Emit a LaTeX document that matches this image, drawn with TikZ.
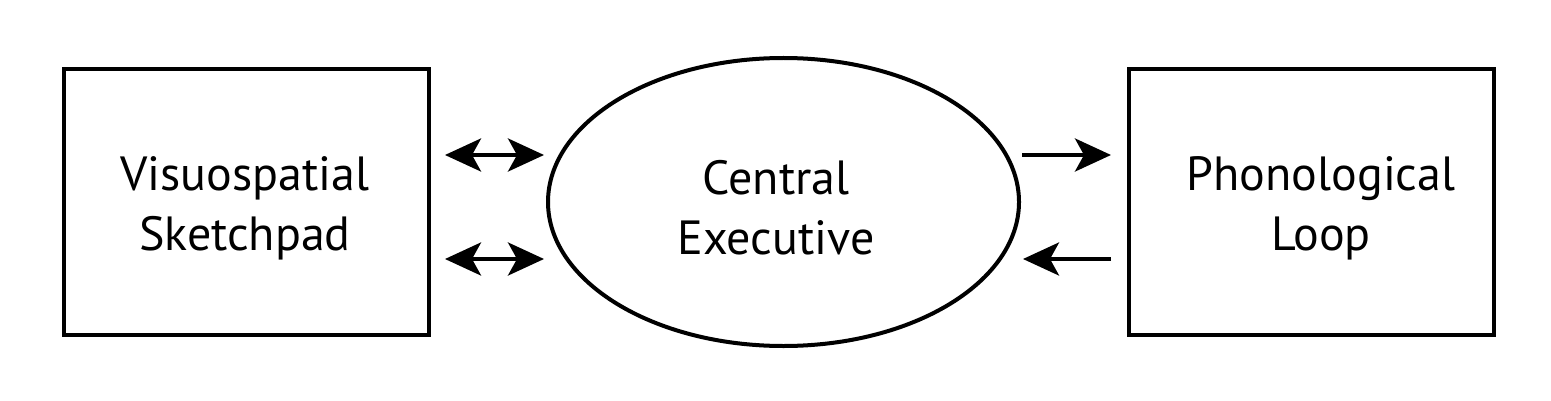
\documentclass[tikz,border=0pt]{standalone}
\usepackage{fontspec}
\setmainfont{PT Sans}
\usetikzlibrary{arrows.meta,shapes.geometric,calc}
\tikzset{mytip/.tip={Stealth[length=18pt,width=16.5pt,inset=4.5pt]}}
\begin{document}
\begin{tikzpicture}[x=0.5pt,y=-0.5pt,
  lw/.style={line width=2pt},
  boxnode/.style={lw,draw,rectangle,minimum width=182.5pt,minimum height=133pt,inner sep=0pt},
  ellnode/.style={lw,draw,ellipse,minimum width=235.5pt,minimum height=144pt,inner sep=0pt},
  txt/.style={align=center,font=\fontsize{24pt}{30pt}\selectfont,inner sep=0pt},
  conn/.style={lw}]
\useasboundingbox (0,0) rectangle (1551,401);
\node[boxnode] (vs) at (246.5,202) {};
\node[ellnode] (ce) at (783.5,202) {};
\node[boxnode] (pl) at (1311.5,202) {};
\node[txt] (vst) at (245,208) {Visuospatial\\Sketchpad};
\node[txt] (cet) at (776,208) {Central\\Executive};
\node[txt] (plt) at (1321,208) {Phonological\\Loop};
\coordinate (a1s) at ($(vs.east)+(14,-47)$);
\coordinate (a1e) at ($(ce.west)+(-2,-47)$);
\coordinate (a2s) at ($(vs.east)+(14,57)$);
\coordinate (a2e) at ($(ce.west)+(-2,57)$);
\coordinate (b1s) at ($(ce.east)+(1,-47)$);
\coordinate (b1e) at ($(pl.west)+(-16,-47)$);
\coordinate (b2s) at ($(pl.west)+(-16,57)$);
\coordinate (b2e) at ($(ce.east)+(2,57)$);
\draw[conn,mytip-mytip] (a1s) -- (a1e);
\draw[conn,mytip-mytip] (a2s) -- (a2e);
\draw[conn,-mytip] (b1s) -- (b1e);
\draw[conn,-mytip] (b2s) -- (b2e);
\end{tikzpicture}
\end{document}
